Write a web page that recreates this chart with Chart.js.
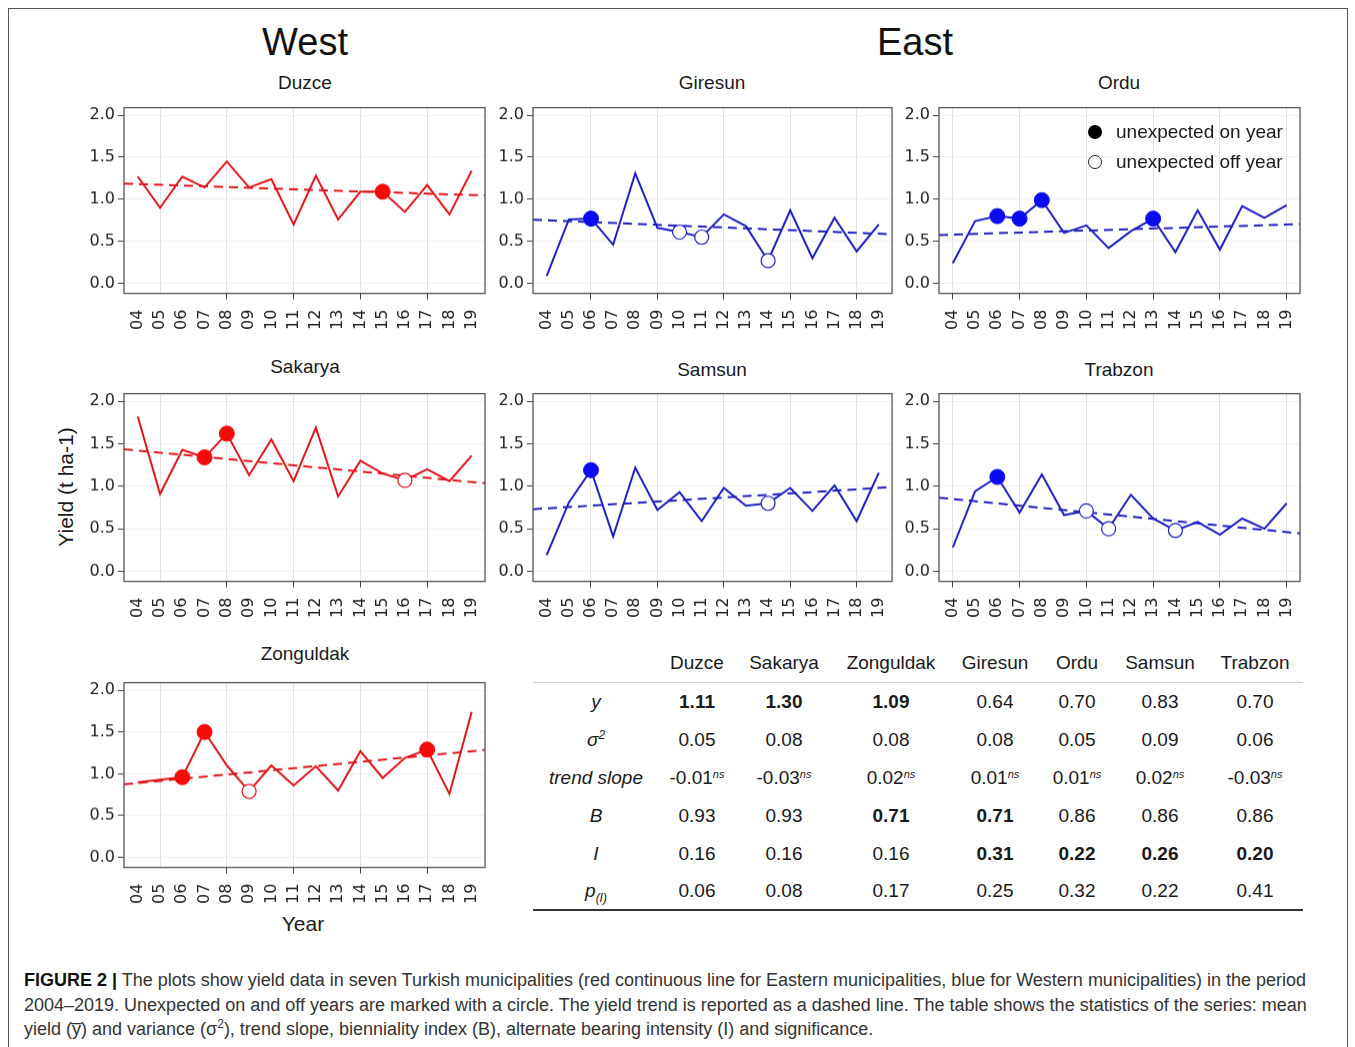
<!DOCTYPE html>
<html><head><meta charset="utf-8">
<script src="https://cdn.jsdelivr.net/npm/chart.js@4"></script>
<style>
body{margin:0;background:#fff;width:1355px;height:1047px;overflow:hidden;position:relative;font-family:"Liberation Sans",Arial,sans-serif;color:#1a1a1a}
.abs{position:absolute}
.c{position:absolute;transform:translate(-50%,-50%);white-space:nowrap}
#frame{position:absolute;left:8px;top:8px;width:1338px;height:1100px;border:1px solid #555}
.big{font-size:38px;color:#111}
.pt{font-size:19px;color:#1a1a1a}
.ax{font-size:21px;color:#1a1a1a}
.leg{position:absolute;font-size:19px;color:#1a1a1a;white-space:nowrap;transform:translateY(-50%)}
.dot{position:absolute;width:14px;height:14px;border-radius:50%;transform:translate(-50%,-50%);box-sizing:border-box}
table{position:absolute;left:533px;top:644px;border-collapse:collapse;table-layout:fixed;font-size:19px;color:#1a1a1a}
td{text-align:center;height:38px;padding:0;white-space:nowrap}
tr.hdr td{border-bottom:1px solid #cfcfcf}
tr.last td{border-bottom:2px solid #333;height:36px}
td.lab{font-style:italic}
sup.ns{font-style:italic;font-size:11px;vertical-align:6px;line-height:0}
#caption{position:absolute;left:24px;top:968px;font-size:18px;line-height:24.5px;color:#333;white-space:nowrap}
</style></head><body>
<div id="frame"></div>
<div class="c big" style="left:305px;top:42px">West</div>
<div class="c big" style="left:915px;top:42px">East</div>
<div class="c pt" style="left:305px;top:83px">Duzce</div>
<div class="c pt" style="left:712px;top:83px">Giresun</div>
<div class="c pt" style="left:1119px;top:83px">Ordu</div>
<div class="c pt" style="left:305px;top:367px">Sakarya</div>
<div class="c pt" style="left:712px;top:370px">Samsun</div>
<div class="c pt" style="left:1119px;top:370px">Trabzon</div>
<div class="c pt" style="left:305px;top:654px">Zonguldak</div>
<div class="c ax" style="left:66px;top:487px;transform:translate(-50%,-50%) rotate(-90deg)">Yield (t ha-1)</div>
<div class="c ax" style="left:303px;top:924px">Year</div>
<div id="charts"></div>
<div class="dot" style="left:1095px;top:132px;background:#000"></div>
<div class="leg" style="left:1116px;top:132px">unexpected on year</div>
<div class="dot" style="left:1095px;top:162px;border:1.5px solid #222;background:#fff"></div>
<div class="leg" style="left:1116px;top:162px">unexpected off year</div>
<table id="stats"></table>
<div id="caption"><b style="color:#111">FIGURE 2 |</b> The plots show yield data in seven Turkish municipalities (red continuous line for Eastern municipalities, blue for Western municipalities) in the period<br>2004–2019. Unexpected on and off years are marked with a circle. The yield trend is reported as a dashed line. The table shows the statistics of the series: mean<br>yield (y̅) and variance (σ<sup style="font-size:12px;line-height:0">2</sup>), trend slope, bienniality index (B), alternate bearing intensity (I) and significance.</div>
<script>
// ---- data ----
const categories = ['04','05','06','07','08','09','10','11','12','13','14','15','16','17','18','19'];
const yTickValues = [0, 0.5, 1.0, 1.5, 2.0];

const duzce     = [1.27,0.90,1.27,1.14,1.45,1.14,1.24,0.70,1.28,0.76,1.09,1.09,0.85,1.17,0.82,1.34];
const giresun   = [0.09,0.76,0.77,0.46,1.31,0.66,0.61,0.55,0.82,0.68,0.27,0.87,0.30,0.78,0.38,0.70];
const ordu      = [0.24,0.74,0.80,0.77,0.99,0.60,0.69,0.42,0.62,0.77,0.37,0.87,0.40,0.92,0.78,0.93];
const sakarya   = [1.82,0.91,1.43,1.34,1.62,1.13,1.55,1.06,1.69,0.88,1.30,1.15,1.07,1.20,1.06,1.36];
const samsun    = [0.19,0.81,1.19,0.41,1.22,0.72,0.93,0.59,0.98,0.77,0.80,0.98,0.71,1.01,0.59,1.16];
const trabzon   = [0.28,0.94,1.11,0.69,1.14,0.66,0.71,0.50,0.90,0.62,0.48,0.58,0.43,0.62,0.50,0.80];
const zonguldak = [0.90,0.93,0.96,1.50,1.10,0.79,1.10,0.86,1.09,0.80,1.27,0.95,1.19,1.29,0.76,1.74];

// trend line values at 2004 and 2019
const trendDuzce = [1.18, 1.05];
const trendGiresun = [0.75, 0.59];
const trendOrdu = [0.58, 0.70];
const trendSakarya = [1.42, 1.05];
const trendSamsun = [0.74, 0.98];
const trendTrabzon = [0.85, 0.46];
const trendZonguldak = [0.89, 1.27];

// unexpected on / off years
const onDuzce = ['15'];            const offDuzce = [];
const onGiresun = ['06'];          const offGiresun = ['10','11','14'];
const onOrdu = ['06','07','08','13']; const offOrdu = [];
const onSakarya = ['07','08'];     const offSakarya = ['16'];
const onSamsun = ['06'];           const offSamsun = ['14'];
const onTrabzon = ['06'];          const offTrabzon = ['10','11','14'];
const onZonguldak = ['06','07','17']; const offZonguldak = ['09'];

// table
const tableCols = ['Duzce','Sakarya','Zonguldak','Giresun','Ordu','Samsun','Trabzon'];
const meanYield = [1.11,1.30,1.09,0.64,0.70,0.83,0.70];
const variance = [0.05,0.08,0.08,0.08,0.05,0.09,0.06];
const trendSlope = [-0.01,-0.03,0.02,0.01,0.01,0.02,-0.03];
const bienniality = [0.93,0.93,0.71,0.71,0.86,0.86,0.86];
const intensity = [0.16,0.16,0.16,0.31,0.22,0.26,0.20];
const pValue = [0.06,0.08,0.17,0.25,0.32,0.22,0.41];
const meanSignificant = [1,1,1,0,0,0,0];
const biennialitySignificant = [0,0,1,1,0,0,0];
const intensitySignificant = [0,0,0,1,1,1,1];

// ---- styles / layout ----
const RED = {line:'#e0151b', dot:'#f50a0a'};
const BLUE = {line:'#1f1fc0', dot:'#0b0bf0'};
const X_MIN = -0.62, X_MAX = 15.6, Y_MIN = -0.12, Y_MAX = 2.09;
const gridW = ['05','08','11','14','17'], tickW = ['08','11','14','17'];
const gridG = ['06','09','12','15','18'];
const gridO = ['04','07','10','13','16','19'];

const panels = [
  {values:duzce, trend:trendDuzce, on:onDuzce, off:offDuzce, col:RED, box:[124,108,361,185], grid:gridW, ticks:tickW},
  {values:giresun, trend:trendGiresun, on:onGiresun, off:offGiresun, col:BLUE, box:[533,108,359,185], grid:gridG, ticks:gridG},
  {values:ordu, trend:trendOrdu, on:onOrdu, off:offOrdu, col:BLUE, box:[939,108,361,185], grid:gridO, ticks:gridO},
  {values:sakarya, trend:trendSakarya, on:onSakarya, off:offSakarya, col:RED, box:[124,394,361,187], grid:gridW, ticks:tickW},
  {values:samsun, trend:trendSamsun, on:onSamsun, off:offSamsun, col:BLUE, box:[533,394,359,187], grid:gridG, ticks:gridG},
  {values:trabzon, trend:trendTrabzon, on:onTrabzon, off:offTrabzon, col:BLUE, box:[939,394,361,187], grid:gridO, ticks:gridO},
  {values:zonguldak, trend:trendZonguldak, on:onZonguldak, off:offZonguldak, col:RED, box:[124,683,361,184], grid:gridW, ticks:tickW},
];

const boxPlugin = {id:'box', afterDraw(chart){
  const {ctx, chartArea:a} = chart;
  ctx.save(); ctx.strokeStyle='#555'; ctx.lineWidth=1.3;
  ctx.strokeRect(a.left, a.top, a.right-a.left, a.bottom-a.top); ctx.restore();
}};

const AXW = 50, AXH = 52, PT = 6, PR = 6;
const tickFont = {family:'DejaVu Sans', size:16};

panels.forEach((p) => {
  const [L,T,W,H] = p.box;
  const div = document.createElement('div');
  let dl = L-AXW, dt = T-PT, dw = W+AXW+PR, dh = H+PT+AXH;
  div.style.cssText = `position:absolute;left:${dl}px;top:${dt}px;width:${dw}px;height:${dh}px`;
  const cv = document.createElement('canvas');
  div.appendChild(cv);
  document.getElementById('charts').appendChild(div);

  const line = p.values.map((v,i)=>({x:i, y:v}));
  const last = categories.length-1;
  const slope = (p.trend[1]-p.trend[0])/last;
  const trendPts = [{x:X_MIN, y:p.trend[0]+slope*X_MIN},{x:X_MAX, y:p.trend[0]+slope*X_MAX}];
  const onPts = p.on.map(c=>{const i=categories.indexOf(c); return {x:i, y:p.values[i]};});
  const offPts = p.off.map(c=>{const i=categories.indexOf(c); return {x:i, y:p.values[i]};});
  const gridIdx = p.grid.map(c=>categories.indexOf(c));
  const tickIdx = p.ticks.map(c=>categories.indexOf(c));

  const chart = new Chart(cv, {
    type:'line',
    data:{datasets:[
      {data:onPts, showLine:false, pointRadius:7.5, pointBackgroundColor:p.col.dot, pointBorderColor:p.col.dot, pointBorderWidth:1, order:0},
      {data:offPts, showLine:false, pointRadius:7, pointBackgroundColor:'#fff', pointBorderColor:p.col.line, pointBorderWidth:1.2, order:1},
      {data:trendPts, borderColor:p.col.line, borderWidth:2, borderDash:[9,6], pointRadius:0, order:2},
      {data:line, borderColor:p.col.line, borderWidth:2, pointRadius:0, tension:0, order:3},
    ]},
    options:{
      responsive:false, maintainAspectRatio:false, animation:false, events:[],
      layout:{padding:{top:PT, right:PR, left:0, bottom:0}},
      plugins:{legend:{display:false}, tooltip:{enabled:false}},
      scales:{
        x:{type:'linear', min:X_MIN, max:X_MAX,
          afterBuildTicks:s=>{s.ticks = categories.map((_,i)=>({value:i}));},
          afterFit:s=>{s.height = AXH;},
          ticks:{autoSkip:false, minRotation:90, maxRotation:90, padding:10, font:tickFont, color:'#222',
            callback:v=>categories[v]},
          grid:{color:c=>(c.tick && gridIdx.includes(c.tick.value))?'#e2e2e2':'rgba(0,0,0,0)',
            tickColor:c=>(c.tick && tickIdx.includes(c.tick.value))?'#444':'rgba(0,0,0,0)',
            tickLength:6, lineWidth:1},
          border:{display:false}},
        y:{min:Y_MIN, max:Y_MAX,
          afterBuildTicks:s=>{s.ticks = yTickValues.map(v=>({value:v}));},
          afterFit:s=>{s.width = AXW;},
          ticks:{padding:3, font:tickFont, color:'#222', callback:v=>Number(v).toFixed(1)},
          grid:{color:'#efefef', tickColor:'#444', tickLength:6, lineWidth:1},
          border:{display:false}}
      }
    },
    plugins:[boxPlugin]
  });
  chart.resize(dw, dh);
  // align the drawn plot area with the target box
  for (let k=0;k<3;k++){
    const a = chart.chartArea;
    const padR = dw - a.right, padB = dh - a.bottom;
    dl = L - a.left; dt = T - a.top;
    dw = a.left + W + padR; dh = a.top + H + padB;
    div.style.left = dl+'px'; div.style.top = dt+'px';
    div.style.width = dw+'px'; div.style.height = dh+'px';
    chart.resize(dw, dh);
  }
});

// ---- table ----
const colW = [126,76,98,116,92,72,94,96];
const tbl = document.getElementById('stats');
const cg = document.createElement('colgroup');
colW.forEach(w=>{const c=document.createElement('col'); c.style.width=w+'px'; cg.appendChild(c);});
tbl.appendChild(cg);
function addRow(cls, label, cells){
  const tr = document.createElement('tr'); if(cls) tr.className = cls;
  const td0 = document.createElement('td'); td0.className='lab'; td0.innerHTML = label; tr.appendChild(td0);
  cells.forEach(h=>{const td=document.createElement('td'); td.innerHTML=h; tr.appendChild(td);});
  tbl.appendChild(tr);
}
const f2 = v=>v.toFixed(2);
const bold = (v,b)=> b ? '<b>'+f2(v)+'</b>' : f2(v);
addRow('hdr','',tableCols);
addRow('', 'y', meanYield.map((v,i)=>bold(v,meanSignificant[i])));
addRow('', 'σ<sup style="font-size:12px;line-height:0">2</sup>', variance.map(f2));
addRow('', 'trend slope', trendSlope.map(v=>f2(v)+'<sup class="ns">ns</sup>'));
addRow('', 'B', bienniality.map((v,i)=>bold(v,biennialitySignificant[i])));
addRow('', 'I', intensity.map((v,i)=>bold(v,intensitySignificant[i])));
addRow('last', 'p<sub style="font-size:12px;line-height:0">(I)</sub>', pValue.map(f2));
</script>
</body></html>
